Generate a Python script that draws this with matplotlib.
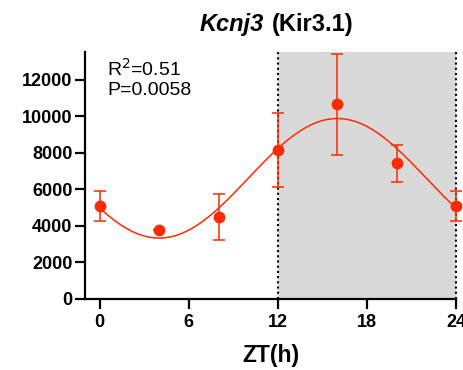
import numpy as np
import matplotlib.pyplot as plt

plt.rcParams['font.family'] = ['Liberation Sans', 'DejaVu Sans']

# Mittelwerte und Fehler
zt = [0, 4, 8, 12, 16, 20, 24]
mean = [5090, 3750, 4490, 8130, 10640, 7420, 5090]
err_lo = [840, 0, 1270, 2020, 2790, 1000, 840]
err_hi = [800, 0, 1240, 2050, 2740, 980, 800]

# Cosinor-Parameter der Anpassungskurve
mesor = 6600
amplitude = 3270
acrophase = 16
period = 24

red = '#FF2A00'

fig = plt.figure(figsize=(4.64, 3.70), dpi=100)
ax = fig.add_axes([0.183, 0.192, 0.8, 0.667])

# Dunkelphase ZT12-24
ax.axvspan(12, 24, color='#D9D9D9', zorder=0, lw=0)
ax.axvline(12, color='black', ls=(0, (1, 1.5)), lw=1.5, zorder=1)
ax.axvline(24, color='black', ls=(0, (1, 1.5)), lw=1.5, zorder=1, clip_on=False)

t = np.linspace(0, 24, 300)
fit = mesor + amplitude * np.cos(2 * np.pi * (t - acrophase) / period)
ax.plot(t, fit, color=red, lw=1.1, zorder=3)

ax.errorbar(zt, mean, yerr=[err_lo, err_hi], fmt='o', color=red, ms=7.5,
            ecolor=red, elinewidth=1.1, capsize=4, capthick=1.1,
            zorder=4, clip_on=False)

ax.set_xlim(-1, 24)
ax.set_ylim(0, 13500)
ax.set_xticks([0, 6, 12, 18, 24])
ax.set_yticks(range(0, 13000, 2000))
for s in ['top', 'right']:
    ax.spines[s].set_visible(False)
for s in ['left', 'bottom']:
    ax.spines[s].set_linewidth(1.6)
ax.tick_params(width=1.6, length=7, labelsize=13, pad=2)
ax.tick_params(axis='x', pad=4)
for lab in ax.get_xticklabels() + ax.get_yticklabels():
    lab.set_fontweight('bold')

ax.set_xlabel('ZT(h)', fontsize=16.5, fontweight='bold', labelpad=9)
fig.text(0.569, 0.915, 'Kcnj3', fontsize=17, fontweight='bold', style='italic',
         ha='right', va='baseline')
fig.text(0.586, 0.915, '(Kir3.1)', fontsize=17, fontweight='bold',
         ha='left', va='baseline')

ax.text(0.06, 0.975, 'R$^2$=0.51\nP=0.0058', transform=ax.transAxes,
        fontsize=14, va='top', ha='left', linespacing=1.15)

fig.savefig('out.png', dpi=100)
